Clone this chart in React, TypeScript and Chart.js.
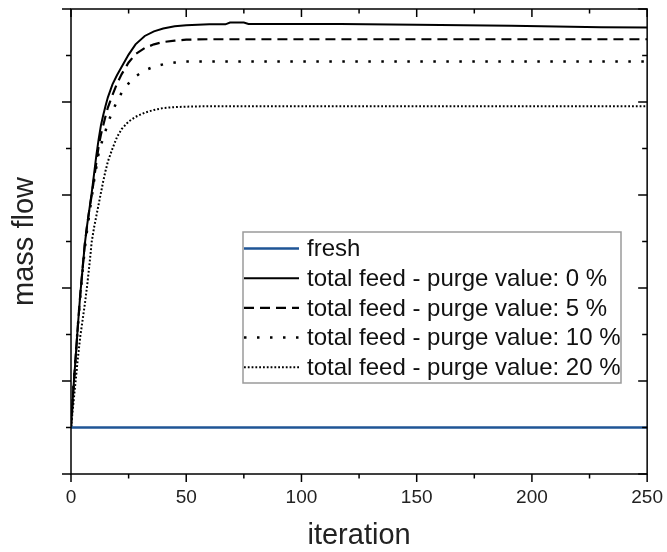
import { useEffect, useRef } from 'react';
import { Chart, registerables } from 'chart.js';

Chart.register(...registerables);

// ---- data ----
const iterations = [0, 1, 2, 3, 4, 5, 6, 7, 8, 9, 10, 11, 12, 13, 14, 15, 16, 18, 20, 22, 25, 28, 32, 36, 40, 45, 50, 60, 67, 69, 75, 77, 117, 150, 191, 230, 250];

const purge0 = [1, 1.8, 2.5, 3.2, 3.85, 4.4, 4.95, 5.35, 5.7, 6.05, 6.45, 6.85, 7.2, 7.5, 7.72, 7.92, 8.1, 8.38, 8.58, 8.76, 9.02, 9.24, 9.42, 9.52, 9.58, 9.63, 9.65, 9.67, 9.67, 9.71, 9.71, 9.68, 9.68, 9.66, 9.64, 9.61, 9.6];
const purge5 = [1, 1.8, 2.5, 3.2, 3.85, 4.4, 4.95, 5.35, 5.7, 6.0, 6.35, 6.7, 7.05, 7.3, 7.5, 7.7, 7.88, 8.15, 8.4, 8.6, 8.85, 9.03, 9.16, 9.24, 9.29, 9.32, 9.34, 9.35, 9.35, 9.35, 9.35, 9.35, 9.35, 9.35, 9.35, 9.35, 9.35];
const purge10 = [1, 1.8, 2.5, 3.2, 3.8, 4.35, 4.85, 5.25, 5.6, 5.95, 6.3, 6.6, 6.9, 7.08, 7.22, 7.38, 7.55, 7.8, 8.02, 8.2, 8.4, 8.55, 8.68, 8.76, 8.81, 8.85, 8.87, 8.87, 8.87, 8.87, 8.87, 8.87, 8.87, 8.87, 8.87, 8.87, 8.87];
const purge20 = [1, 1.5, 2.0, 2.5, 2.95, 3.3, 3.65, 4.05, 4.5, 5.0, 5.3, 5.55, 5.8, 6.05, 6.3, 6.52, 6.72, 7.0, 7.25, 7.42, 7.58, 7.68, 7.77, 7.83, 7.87, 7.89, 7.9, 7.91, 7.91, 7.91, 7.91, 7.91, 7.91, 7.91, 7.91, 7.91, 7.91];

const freshIterations = [0, 250];
const freshValues = [1, 1];

const seriesLabels = [
  'fresh',
  'total feed - purge value: 0 %',
  'total feed - purge value: 5 %',
  'total feed - purge value: 10 %',
  'total feed - purge value: 20 %',
];

const xTickLabels = [0, 50, 100, 150, 200, 250];
const xTickValues = [0, 25, 50, 75, 100, 125, 150, 175, 200, 225, 250];
const yTickValues = [0, 1, 2, 3, 4, 5, 6, 7, 8, 9, 10];

const FONT = '"Liberation Sans", Arial, Helvetica, sans-serif';

const toPoints = (xs: number[], ys: number[]) => xs.map((x, i) => ({ x, y: ys[i] }));

const framePlugin = {
  id: 'frameTicks',
  afterDraw(chart: any) {
    const { ctx, chartArea: a, scales } = chart;
    const xs = scales.x;
    const ys = scales.y;
    ctx.save();
    ctx.strokeStyle = '#000';
    ctx.lineWidth = 1.5;
    ctx.lineCap = 'butt';
    ctx.strokeRect(a.left, a.top, a.right - a.left, a.bottom - a.top);
    const seg = (x1: number, y1: number, x2: number, y2: number) => {
      ctx.beginPath();
      ctx.moveTo(x1, y1);
      ctx.lineTo(x2, y2);
      ctx.stroke();
    };
    for (const v of xTickValues) {
      const px = xs.getPixelForValue(v);
      const major = xTickLabels.includes(v);
      const len = major ? 8 : 4.5;
      seg(px, a.bottom, px, a.bottom + len);
      seg(px, a.top, px, a.top + len);
    }
    for (const v of yTickValues) {
      const py = ys.getPixelForValue(v);
      const major = v % 2 === 0;
      const len = major ? 9 : 5;
      seg(a.left - len, py, a.left, py);
      seg(a.right - len, py, a.right, py);
    }
    ctx.restore();
  },
};

const legendPlugin = {
  id: 'insideLegend',
  afterDraw(chart: any) {
    const { ctx, chartArea: a } = chart;
    const left = a.left + 172;
    const top = a.top + 223;
    const w = 378;
    const h = 151;
    ctx.save();
    ctx.fillStyle = '#fff';
    ctx.fillRect(left, top, w, h);
    ctx.strokeStyle = '#9a9a9a';
    ctx.lineWidth = 1.5;
    ctx.strokeRect(left, top, w, h);
    ctx.font = `24px ${FONT}`;
    ctx.textBaseline = 'middle';
    ctx.textAlign = 'left';
    chart.data.datasets.forEach((ds: any, i: number) => {
      const cy = top + 16.5 + i * 29.7;
      ctx.beginPath();
      ctx.setLineDash(ds.borderDash || []);
      ctx.strokeStyle = ds.borderColor;
      ctx.lineWidth = ds.borderWidth;
      ctx.moveTo(left + 1, cy);
      ctx.lineTo(left + 56, cy);
      ctx.stroke();
      ctx.setLineDash([]);
      ctx.fillStyle = '#111';
      ctx.fillText(ds.label, left + 64, cy + 1);
    });
    ctx.restore();
  },
};

export default function App() {
  const ref = useRef<HTMLCanvasElement | null>(null);

  useEffect(() => {
    if (!ref.current) return;
    const chart = new Chart(ref.current, {
      type: 'line',
      data: {
        datasets: [
          {
            label: seriesLabels[0],
            data: toPoints(freshIterations, freshValues),
            borderColor: '#1f5596',
            borderWidth: 2.5,
          },
          {
            label: seriesLabels[1],
            data: toPoints(iterations, purge0),
            borderColor: '#000',
            borderWidth: 2,
          },
          {
            label: seriesLabels[2],
            data: toPoints(iterations, purge5),
            borderColor: '#000',
            borderWidth: 2.2,
            borderDash: [10, 6],
          },
          {
            label: seriesLabels[3],
            data: toPoints(iterations, purge10),
            borderColor: '#000',
            borderWidth: 2.5,
            borderDash: [2.5, 10.5],
          },
          {
            label: seriesLabels[4],
            data: toPoints(iterations, purge20),
            borderColor: '#000',
            borderWidth: 2,
            borderDash: [1.8, 2],
          },
        ],
      },
      options: {
        animation: false,
        responsive: false,
        layout: { padding: { left: 0, right: 18, top: 9, bottom: 0 } },
        plugins: { legend: { display: false }, tooltip: { enabled: false } },
        elements: { point: { radius: 0 }, line: { tension: 0, fill: false } },
        scales: {
          x: {
            type: 'linear',
            min: 0,
            max: 250,
            afterBuildTicks: (s: any) => {
              s.ticks = xTickLabels.map((v) => ({ value: v }));
            },
            ticks: {
              font: { family: FONT, size: 19 },
              color: '#222',
              padding: 4,
              maxRotation: 0,
            },
            grid: {
              display: true,
              drawOnChartArea: false,
              drawTicks: true,
              tickLength: 8,
              tickColor: 'rgba(0,0,0,0)',
            },
            border: { display: false },
            title: {
              display: true,
              text: 'iteration',
              font: { family: FONT, size: 29, lineHeight: 1 },
              color: '#222',
              padding: { top: 8.7, bottom: 1.5 },
            },
          },
          y: {
            type: 'linear',
            min: 0,
            max: 10,
            ticks: { display: false, stepSize: 2 },
            grid: {
              display: true,
              drawOnChartArea: false,
              drawTicks: true,
              tickLength: 9,
              tickColor: 'rgba(0,0,0,0)',
            },
            border: { display: false },
            title: {
              display: true,
              text: 'mass flow',
              font: { family: FONT, size: 29, lineHeight: 1 },
              color: '#222',
              padding: { top: 10.5, bottom: 22.5 },
            },
          },
        },
      },
      plugins: [framePlugin, legendPlugin],
    });
    return () => chart.destroy();
  }, []);

  return (
    <div style={{ position: 'absolute', left: 0, top: 0, width: 667, height: 552, background: '#fff' }}>
      <canvas ref={ref} width={667} height={552} style={{ display: 'block' }} />
    </div>
  );
}
